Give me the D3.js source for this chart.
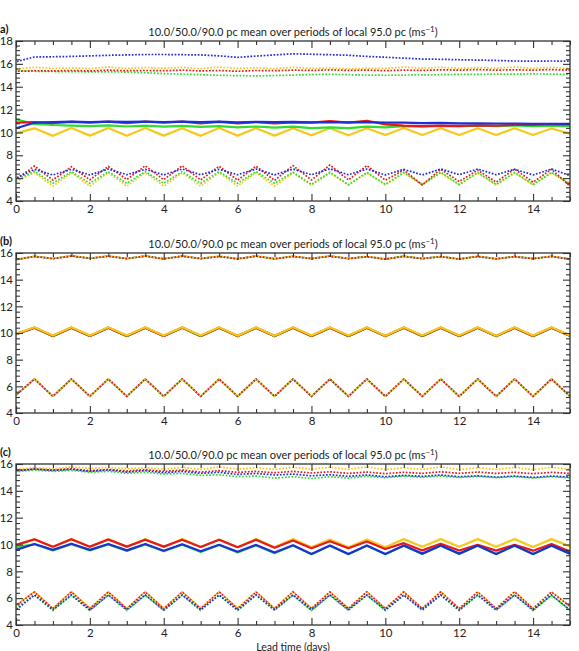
<!DOCTYPE html>
<html>
<head>
<meta charset="utf-8">
<script src="https://cdn.jsdelivr.net/npm/d3@7"></script>
<style>
  body { margin: 0; background: #fff; }
  svg { display: block; font-family: Lato, "Open Sans", sans-serif; }
</style>
</head>
<body>
<div class="chart"></div>
<script>
// lead time in days, one value every half day
var leadDays = [0,0.5,1,1.5,2,2.5,3,3.5,4,4.5,5,5.5,6,6.5,7,7.5,8,8.5,9,9.5,10,10.5,11,11.5,12,12.5,13,13.5,14,14.5,15];

var xTicks = [0,2,4,6,8,10,12,14];
var yTicksA = [4,6,8,10,12,14,16,18];
var yTicksBC = [4,6,8,10,12,14,16];
var panelLabels = ['a)', '(b)', '(c)'];

// panel (a)
var aYellow90 = [15.55,15.7,15.6,15.65,15.58,15.72,15.6,15.68,15.62,15.7,15.58,15.72,15.6,15.66,15.58,15.7,15.6,15.65,15.55,15.62,15.6,15.72,15.62,15.7,15.6,15.68,15.62,15.72,15.6,15.7,15.58];
var aGreen90 = [15.4,15.35,15.33,15.32,15.3,15.3,15.28,15.22,15.15,15.1,15.05,15.0,14.97,14.95,14.98,15.02,15.06,15.08,15.05,15.02,15.0,15.02,15.04,15.05,15.08,15.08,15.1,15.1,15.12,15.1,15.08];
var aRed90 = [15.35,15.4,15.38,15.42,15.38,15.45,15.4,15.42,15.4,15.45,15.38,15.42,15.35,15.42,15.4,15.45,15.42,15.48,15.42,15.46,15.4,15.45,15.42,15.48,15.45,15.5,15.45,15.48,15.45,15.5,15.45];
var aBlue90 = [16.19,16.6,16.62,16.65,16.7,16.75,16.78,16.82,16.82,16.8,16.78,16.7,16.57,16.68,16.78,16.88,16.84,16.8,16.75,16.65,16.58,16.5,16.42,16.4,16.36,16.33,16.3,16.25,16.24,16.25,16.24];

var aYellow50 = [9.92,10.36,9.7,10.38,9.72,10.38,9.7,10.38,9.72,10.36,9.7,10.38,9.72,10.36,9.72,10.36,9.75,10.36,9.75,10.36,9.78,10.38,9.78,10.36,9.78,10.36,9.78,10.36,9.78,10.34,9.9];
var aGreen50 = [11.15,10.74,10.65,10.6,10.55,10.62,10.52,10.6,10.5,10.58,10.48,10.55,10.45,10.52,10.42,10.5,10.38,10.45,10.38,10.5,10.45,10.55,10.5,10.58,10.52,10.6,10.55,10.62,10.55,10.6,10.55];
var aRed50 = [10.85,10.9,10.82,10.92,10.85,10.95,10.82,10.95,10.85,10.95,10.8,10.92,10.8,10.9,10.78,10.88,10.85,11.0,10.85,11.02,10.7,10.6,10.55,10.6,10.58,10.62,10.6,10.66,10.65,10.72,10.7];
var aBlue50 = [10.36,10.85,10.9,10.94,10.9,10.95,10.92,10.95,10.9,10.94,10.9,10.94,10.88,10.92,10.9,10.92,10.88,10.9,10.88,10.9,10.85,10.86,10.82,10.84,10.8,10.8,10.78,10.78,10.76,10.76,10.74];

var aYellow10 = [5.7,6.48,5.3,6.48,5.3,6.48,5.3,6.48,5.3,6.48,5.3,6.48,5.32,6.48,5.3,6.45,5.4,6.45,5.4,6.45,5.4,6.45,5.4,6.45,5.4,6.45,5.4,6.45,5.4,6.45,5.55];
var aGreen10 = [5.84,6.6,5.55,6.57,5.55,6.57,5.55,6.57,5.55,6.57,5.55,6.57,5.55,6.57,5.55,6.52,5.45,6.52,5.42,6.5,5.45,6.5,5.45,6.52,5.45,6.5,5.45,6.5,5.45,6.5,5.45];
var aRed10 = [5.9,7.06,5.84,7.0,5.86,7.02,5.88,7.08,5.86,7.08,5.84,7.04,5.82,7.04,5.8,7.1,5.84,7.15,5.84,7.1,5.82,6.71,5.4,6.78,5.7,6.71,5.65,6.8,5.65,6.78,5.3];
var aBlue10 = [6.0,6.77,6.28,6.77,6.28,6.8,6.3,6.77,6.28,6.8,6.3,6.77,6.3,6.8,6.28,6.8,6.3,6.82,6.3,6.8,6.28,6.77,6.28,6.8,6.3,6.8,6.3,6.78,6.28,6.8,6.22];

// panel (b)
var bYellow90 = [15.52,15.76,15.6,15.8,15.62,15.78,15.6,15.78,15.58,15.78,15.6,15.76,15.58,15.78,15.58,15.76,15.6,15.78,15.6,15.74,15.56,15.76,15.6,15.74,15.56,15.76,15.58,15.74,15.6,15.76,15.56];
var bGreen90 = [15.5,15.75,15.59,15.78,15.6,15.77,15.59,15.77,15.57,15.77,15.59,15.75,15.57,15.77,15.57,15.75,15.59,15.77,15.59,15.73,15.55,15.75,15.59,15.73,15.55,15.75,15.57,15.73,15.59,15.75,15.55];
var bRed90 = [15.5,15.74,15.58,15.78,15.6,15.76,15.58,15.76,15.56,15.76,15.58,15.74,15.56,15.76,15.56,15.74,15.58,15.76,15.58,15.72,15.54,15.74,15.58,15.72,15.54,15.74,15.56,15.72,15.58,15.74,15.54];
var bBlue90 = [15.51,15.74,15.58,15.77,15.6,15.76,15.58,15.77,15.57,15.76,15.58,15.74,15.57,15.76,15.57,15.75,15.58,15.76,15.58,15.73,15.55,15.75,15.58,15.73,15.55,15.74,15.57,15.73,15.58,15.74,15.55];

var bYellow50 = [9.95,10.43,9.81,10.43,9.81,10.43,9.81,10.43,9.81,10.44,9.81,10.43,9.8,10.43,9.8,10.43,9.81,10.43,9.81,10.43,9.8,10.43,9.81,10.43,9.81,10.43,9.8,10.43,9.81,10.43,9.82];
var bGreen50 = [9.9,10.39,9.76,10.39,9.77,10.39,9.76,10.39,9.77,10.4,9.76,10.39,9.75,10.39,9.75,10.39,9.76,10.39,9.76,10.39,9.75,10.39,9.76,10.39,9.76,10.39,9.75,10.39,9.76,10.39,9.77];
var bRed50 = [9.92,10.4,9.78,10.4,9.78,10.4,9.78,10.4,9.78,10.41,9.78,10.4,9.77,10.4,9.77,10.4,9.78,10.4,9.78,10.4,9.77,10.4,9.78,10.4,9.78,10.4,9.77,10.4,9.78,10.4,9.79];
var bBlue50 = [9.9,10.39,9.78,10.39,9.78,10.39,9.78,10.39,9.78,10.4,9.78,10.39,9.77,10.39,9.77,10.39,9.78,10.39,9.78,10.39,9.77,10.39,9.78,10.39,9.78,10.39,9.77,10.39,9.78,10.39,9.79];

var bYellow10 = [5.36,6.56,5.26,6.56,5.26,6.56,5.26,6.56,5.26,6.57,5.26,6.56,5.26,6.56,5.26,6.56,5.26,6.56,5.26,6.56,5.26,6.56,5.26,6.56,5.26,6.56,5.26,6.56,5.26,6.56,5.27];
var bGreen10 = [5.34,6.54,5.24,6.54,5.24,6.54,5.24,6.54,5.24,6.55,5.24,6.54,5.24,6.54,5.24,6.54,5.24,6.54,5.24,6.54,5.24,6.54,5.24,6.54,5.24,6.54,5.24,6.54,5.24,6.54,5.25];
var bRed10 = [5.35,6.55,5.25,6.55,5.25,6.55,5.25,6.55,5.25,6.56,5.25,6.55,5.25,6.55,5.25,6.55,5.25,6.55,5.25,6.55,5.25,6.55,5.25,6.55,5.25,6.55,5.25,6.55,5.25,6.55,5.26];
var bBlue10 = [5.35,6.55,5.25,6.55,5.25,6.55,5.25,6.55,5.25,6.55,5.25,6.55,5.25,6.55,5.25,6.55,5.25,6.55,5.25,6.55,5.25,6.55,5.25,6.55,5.25,6.55,5.25,6.55,5.25,6.55,5.25];

// panel (c)
var cYellow90 = [15.6,15.72,15.65,15.78,15.68,15.75,15.65,15.72,15.62,15.75,15.6,15.78,15.62,15.72,15.6,15.75,15.62,15.76,15.6,15.78,15.58,15.72,15.6,15.78,15.58,15.72,15.6,15.75,15.58,15.75,15.6];
var cGreen90 = [15.42,15.55,15.45,15.52,15.38,15.45,15.3,15.38,15.25,15.3,15.15,15.2,15.05,15.1,14.95,15.05,14.92,15.05,14.95,15.08,14.98,15.1,15.0,15.1,15.0,15.08,14.98,15.06,14.95,15.05,14.98];
var cRed90 = [15.52,15.62,15.55,15.65,15.5,15.6,15.48,15.58,15.45,15.55,15.4,15.5,15.38,15.45,15.35,15.45,15.33,15.42,15.3,15.4,15.28,15.38,15.3,15.42,15.3,15.4,15.3,15.38,15.28,15.38,15.3];
var cBlue90 = [15.5,15.62,15.52,15.6,15.45,15.55,15.4,15.5,15.35,15.45,15.3,15.38,15.22,15.3,15.18,15.25,15.12,15.2,15.08,15.18,15.05,15.15,15.08,15.18,15.05,15.12,15.02,15.1,15.0,15.1,15.02];

var cYellow50 = [9.9,10.38,9.82,10.4,9.82,10.4,9.82,10.4,9.82,10.4,9.82,10.38,9.8,10.4,9.8,10.4,9.8,10.38,9.8,10.38,9.8,10.4,9.84,10.4,9.84,10.4,9.84,10.4,9.82,10.4,9.86];
var cGreen50 = [9.8,10.02,9.55,10.02,9.56,10.0,9.52,10.0,9.5,9.98,9.45,9.96,9.4,9.94,9.35,9.92,9.28,9.9,9.28,9.9,9.28,9.9,9.3,9.9,9.3,9.9,9.28,9.9,9.28,9.9,9.3];
var cRed50 = [9.97,10.39,9.84,10.39,9.84,10.38,9.84,10.36,9.84,10.36,9.82,10.35,9.8,10.35,9.76,10.3,9.72,10.24,9.72,10.22,9.67,10.1,9.56,10.05,9.55,9.98,9.54,9.98,9.54,10.04,9.47];
var cBlue50 = [9.6,10.04,9.6,10.06,9.6,10.04,9.56,10.04,9.54,10.02,9.5,9.98,9.46,9.97,9.4,9.94,9.3,9.92,9.3,9.92,9.3,9.92,9.32,9.92,9.32,9.92,9.3,9.92,9.3,9.92,9.32];

var cYellow10 = [5.49,6.49,5.25,6.5,5.26,6.49,5.25,6.5,5.25,6.49,5.26,6.5,5.25,6.49,5.25,6.5,5.26,6.49,5.25,6.5,5.25,6.49,5.26,6.5,5.25,6.49,5.25,6.5,5.26,6.49,5.42];
var cGreen10 = [5.3,6.22,5.08,6.22,5.07,6.22,5.08,6.22,5.07,6.22,5.08,6.22,5.07,6.22,5.08,6.22,5.07,6.22,5.08,6.22,5.07,6.22,5.08,6.22,5.07,6.22,5.08,6.22,5.07,6.22,5.08];
var cRed10 = [5.45,6.46,5.22,6.47,5.22,6.46,5.22,6.47,5.22,6.46,5.22,6.47,5.22,6.46,5.22,6.47,5.22,6.46,5.22,6.47,5.22,6.46,5.22,6.47,5.22,6.46,5.22,6.47,5.22,6.46,5.38];
var cBlue10 = [5.12,6.24,5.14,6.24,5.12,6.24,5.14,6.24,5.12,6.24,5.14,6.24,5.12,6.24,5.14,6.24,5.12,6.24,5.14,6.24,5.12,6.24,5.14,6.24,5.12,6.24,5.14,6.24,5.12,6.24,5.12];

var colors = {yellow: '#f6c81c', green: '#2fdc2f', red: '#e5191b', blue: '#1e2fd6'};
// shift of the dot pattern, so that dotted lines lying on each other interleave
var dotShift = {yellow: 0, green: 0.8, red: 1.6, blue: 2.4};

var titleText = '10.0/50.0/90.0 pc mean over periods of local 95.0 pc (ms';
var labelX = 'Lead time (days)';

// page layout
var values = {width: 579, height: 651, left: 16, right: 570};

// every panel: 90 pc dotted, 50 pc solid, 10 pc dotted per colour
function makeSeries(order, y90, g90, r90, b90, y50, g50, r50, b50, y10, g10, r10, b10) {
  var byColour = {
    yellow: [y90, y50, y10], green: [g90, g50, g10],
    red: [r90, r50, r10], blue: [b90, b50, b10]
  };
  var out = [];
  [0, 1, 2].forEach(k => {
    order.forEach(c => {
      out.push({v: byColour[c][k], c: c, dot: k !== 1});
    });
  });
  return out;
}

var panels = [
  {label: panelLabels[0], top: 41, bottom: 201, yMin: 4, yMax: 18, ticks: yTicksA,
   series: makeSeries(['yellow', 'green', 'red', 'blue'], aYellow90, aGreen90, aRed90, aBlue90, aYellow50, aGreen50, aRed50, aBlue50, aYellow10, aGreen10, aRed10, aBlue10)},
  {label: panelLabels[1], top: 253, bottom: 413, yMin: 4, yMax: 16, ticks: yTicksBC,
   series: makeSeries(['blue', 'green', 'red', 'yellow'], bYellow90, bGreen90, bRed90, bBlue90, bYellow50, bGreen50, bRed50, bBlue50, bYellow10, bGreen10, bRed10, bBlue10)},
  {label: panelLabels[2], top: 464, bottom: 625, yMin: 4, yMax: 16, ticks: yTicksBC,
   series: makeSeries(['yellow', 'green', 'red', 'blue'], cYellow90, cGreen90, cRed90, cBlue90, cYellow50, cGreen50, cRed50, cBlue50, cYellow10, cGreen10, cRed10, cBlue10)}
];

var svg = d3.select('.chart')
  .append('svg')
  .attr('width', values.width)
  .attr('height', values.height);

var x = d3.scaleLinear().domain([0, 15]).range([values.left, values.right]);
var xMinor = d3.range(0, 15.01, 0.5).filter(d => d % 2 !== 0);

panels.forEach(p => {
  var y = d3.scaleLinear().domain([p.yMin, p.yMax]).range([p.bottom, p.top]);
  var yMinor = d3.range(p.yMin, p.yMax + 0.001, 0.4)
    .filter(d => Math.abs(d / 2 - Math.round(d / 2)) > 0.01);
  var g = svg.append('g');

  // lines
  var line = d3.line()
    .x((d, i) => x(leadDays[i]))
    .y(d => y(d));
  g.selectAll('path.series')
    .data(p.series)
    .enter()
    .append('path')
    .attr('class', 'series')
    .attr('d', d => line(d.v))
    .attr('fill', 'none')
    .attr('stroke', d => colors[d.c])
    .attr('stroke-width', d => d.dot ? 1.7 : 2.2)
    .attr('stroke-dasharray', d => d.dot ? '1.7,1.6' : null)
    .attr('stroke-dashoffset', d => d.dot ? dotShift[d.c] : null)
    .attr('stroke-linejoin', 'round');

  // axes with inward ticks on all four sides
  var axes = [
    {gen: d3.axisBottom(x).tickValues(xTicks).tickSize(-7).tickPadding(4), tr: 'translate(0,' + p.bottom + ')'},
    {gen: d3.axisBottom(x).tickValues(xMinor).tickSize(-4).tickFormat(''), tr: 'translate(0,' + p.bottom + ')'},
    {gen: d3.axisTop(x).tickValues(xTicks).tickSize(-7).tickFormat(''), tr: 'translate(0,' + p.top + ')'},
    {gen: d3.axisTop(x).tickValues(xMinor).tickSize(-4).tickFormat(''), tr: 'translate(0,' + p.top + ')'},
    {gen: d3.axisLeft(y).tickValues(p.ticks).tickSize(-7).tickPadding(3), tr: 'translate(' + values.left + ',0)'},
    {gen: d3.axisLeft(y).tickValues(yMinor).tickSize(-4).tickFormat(''), tr: 'translate(' + values.left + ',0)'},
    {gen: d3.axisRight(y).tickValues(p.ticks).tickSize(-7).tickFormat(''), tr: 'translate(' + values.right + ',0)'},
    {gen: d3.axisRight(y).tickValues(yMinor).tickSize(-4).tickFormat(''), tr: 'translate(' + values.right + ',0)'}
  ];
  axes.forEach(a => {
    var ax = g.append('g').attr('transform', a.tr).call(a.gen);
    ax.select('.domain').remove();
    ax.selectAll('line').attr('stroke', '#333').attr('stroke-width', 1.1);
    ax.selectAll('text').attr('font-size', 11.5).attr('fill', '#222')
      .attr('font-family', 'Lato, sans-serif');
  });

  // frame
  g.append('rect')
    .attr('x', values.left)
    .attr('y', p.top)
    .attr('width', values.right - values.left)
    .attr('height', p.bottom - p.top)
    .attr('fill', 'none')
    .attr('stroke', '#333')
    .attr('stroke-width', 1.3);

  // title with superscript
  var t = g.append('text')
    .attr('x', (values.left + values.right) / 2)
    .attr('y', p.top - 5)
    .attr('text-anchor', 'middle')
    .attr('font-size', 11)
    .attr('fill', '#222')
    .text(titleText);
  t.append('tspan').attr('dy', -4).attr('font-size', 8).text('\u22121');
  t.append('tspan').attr('dy', 4).text(')');

  g.append('text')
    .attr('x', 0)
    .attr('y', p.top - 8)
    .attr('font-size', 11)
    .attr('font-weight', 'bold')
    .attr('fill', '#111')
    .text(p.label);
});

svg.append('text')
  .attr('x', (values.left + values.right) / 2)
  .attr('y', 650.5)
  .attr('text-anchor', 'middle')
  .attr('font-size', 10.5)
  .attr('fill', '#222')
  .text(labelX);
</script>
</body>
</html>
